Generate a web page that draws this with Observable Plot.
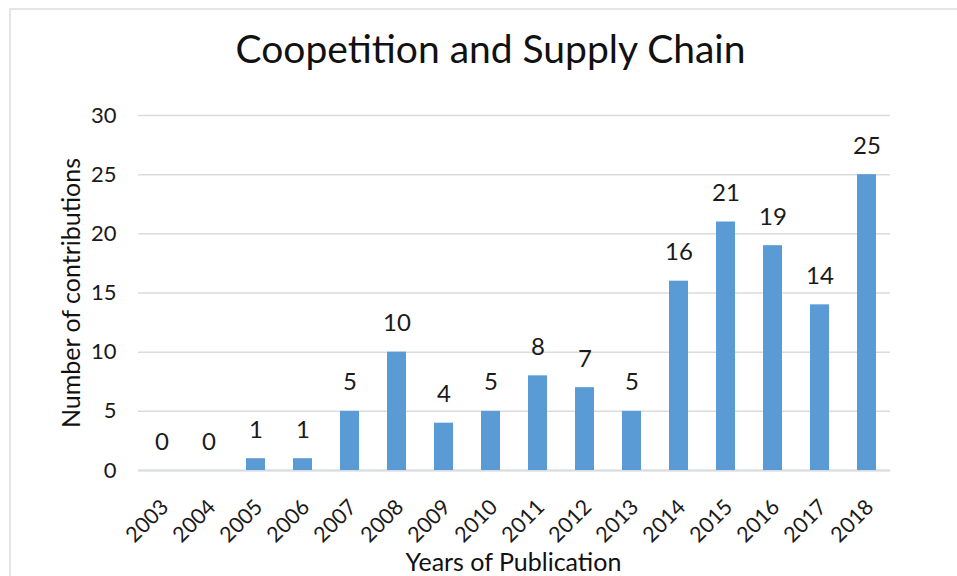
<!DOCTYPE html>
<html>
<head>
<meta charset="utf-8">
<script src="https://cdn.jsdelivr.net/npm/d3@7"></script>
<script src="https://cdn.jsdelivr.net/npm/@observablehq/plot@0.6"></script>
<style>
  html, body { margin: 0; padding: 0; background: #fff; }
  #wrap { position: relative; width: 957px; height: 576px; overflow: hidden; }
  #frame { position: absolute; left: 9px; top: 8px; width: 960px; height: 580px;
           border-left: 2px solid #e3e5ea; border-top: 2px solid #e3e5ea; box-sizing: border-box; }
  #chart { position: absolute; left: 0; top: 0; }
</style>
</head>
<body>
<div id="wrap"><div id="frame"></div><div id="chart"></div></div>
<script>
const years = ["2003","2004","2005","2006","2007","2008","2009","2010","2011","2012","2013","2014","2015","2016","2017","2018"];
const counts = [0,0,1,1,5,10,4,5,8,7,5,16,21,19,14,25];
const yTicks = [0,5,10,15,20,25,30];
const title = "Coopetition and Supply Chain";
const xLabel = "Years of Publication";
const yLabel = "Number of contributions";

const data = years.map((y, i) => ({year: y, count: counts[i]}));
const font = "Lato, 'Open Sans', sans-serif";

const chart = Plot.plot({
  width: 957,
  height: 576,
  marginTop: 115,
  marginBottom: 106,
  marginLeft: 138,
  marginRight: 67,
  style: {fontFamily: font, fontSize: "21px", color: "#1a1a1a", background: "transparent"},
  x: {domain: years, paddingInner: 0.6, paddingOuter: 0.3, align: 0.5},
  y: {domain: [0, 30]},
  marks: [
    Plot.gridY(yTicks, {stroke: "#d9dbe0", strokeOpacity: 1, strokeWidth: 1.5}),
    Plot.ruleY([0], {stroke: "#d9dbe0", strokeWidth: 2}),
    Plot.barY(data, {x: "year", y: "count", fill: "#5b9bd5"}),
    Plot.text(data, {x: "year", y: "count", text: d => String(d.count), lineAnchor: "bottom", dy: -21, fontSize: 24, fill: "#1a1a1a"}),
    Plot.axisY(yTicks, {tickSize: 0, tickPadding: 22, fontSize: 22, label: null}),
    Plot.axisX({tickSize: 0, tickPadding: 33, tickRotate: -45, fontSize: 21.5, label: null, dx: 3}),
    Plot.text([yLabel], {frameAnchor: "left", textAnchor: "middle", dx: -67, rotate: -90, fontSize: 25, fill: "#111"}),
    Plot.text([xLabel], {frameAnchor: "bottom", dy: 100, dx: -1, fontSize: 25, fill: "#111"}),
    Plot.text([title], {frameAnchor: "top", dy: -65, dx: -24, fontSize: 39, fill: "#111", lineAnchor: "middle"})
  ]
});
document.getElementById("chart").appendChild(chart);
</script>
</body>
</html>
